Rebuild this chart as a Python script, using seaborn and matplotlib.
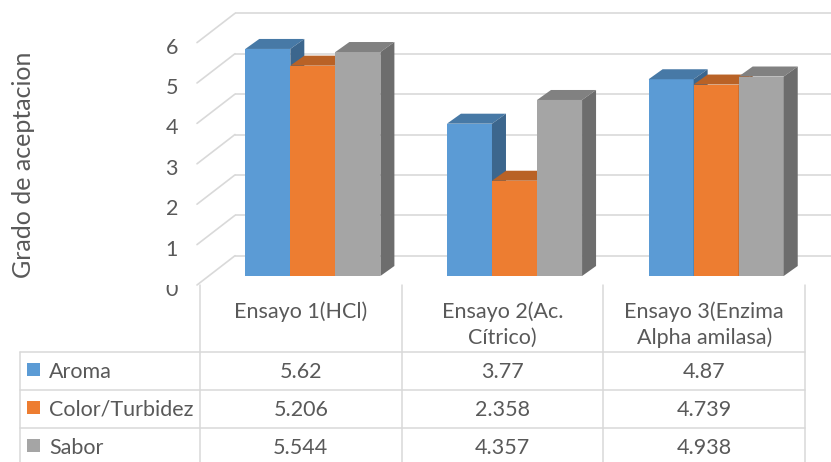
import numpy as np
import pandas as pd
import matplotlib
matplotlib.use("Agg")
import matplotlib.pyplot as plt
import seaborn as sns
from matplotlib.patches import Polygon, Rectangle
from matplotlib.transforms import offset_copy, Bbox
from matplotlib.colors import to_rgb

# ---------------- data ----------------
ensayos = ["Ensayo 1(HCl)", "Ensayo 2(Ac.\nCítrico)", "Ensayo 3(Enzima\nAlpha amilasa)"]
series = ["Aroma", "Color/Turbidez", "Sabor"]
aroma = [5.62, 3.77, 4.87]
color_turbidez = [5.206, 2.358, 4.739]
sabor = [5.544, 4.357, 4.938]
y_ticks = [0, 1, 2, 3, 4, 5, 6]
y_label = "Grado de aceptacion"
palette = ["#5B9BD5", "#ED7D31", "#A5A5A5"]

values = {"Aroma": aroma, "Color/Turbidez": color_turbidez, "Sabor": sabor}
df = pd.DataFrame([
    {"ensayo": e, "serie": s, "valor": values[s][i]}
    for s in series for i, e in enumerate(ensayos)
])

# ---------------- style ----------------
sns.set_style("white")
plt.rcParams["font.family"] = ["Lato", "DejaVu Sans"]
FS = 15.5
TXT = "#595959"
GRID = "#D9D9D9"

W, H = 831, 462
fig = plt.figure(figsize=(W / 100, H / 100), dpi=100)


def px_rect(x0, y0, x1, y1):
    return [x0 / W, 1 - y1 / H, (x1 - x0) / W, (y1 - y0) / H]


# pixel overlay for the data table
oax = fig.add_axes([0, 0, 1, 1], zorder=0)
oax.set_xlim(0, W)
oax.set_ylim(H, 0)
oax.axis("off")

# main (bar plane) axes
ax = fig.add_axes(px_rect(212, 33.6, 817, 276), zorder=1)
sns.barplot(data=df, x="ensayo", y="valor", hue="serie", order=ensayos,
            hue_order=series, palette=palette, saturation=1, width=0.67,
            legend=False, ax=ax)
ax.set_xlim(-0.5, 2.5)
ax.set_ylim(0, 6)
ax.axis("off")

# pixel/data conversion factors
p00 = ax.transData.transform((0, 0))
ux = ax.transData.transform((1, 0))[0] - p00[0]
uy = ax.transData.transform((0, 1))[1] - p00[1]

# depth geometry (pixels)
BACK = (23, 20.3)
FRONT = (-15, -9)
DEPTH = (14, 10)

# back wall gridlines and left floor/wall diagonals
for v in y_ticks:
    ax.plot([-0.5 + BACK[0] / ux, 3.2], [v + BACK[1] / uy] * 2, color=GRID,
            lw=1.2, clip_on=False, zorder=0.5, solid_capstyle="butt")
    ax.plot([-0.5 + FRONT[0] / ux, -0.5 + BACK[0] / ux],
            [v + FRONT[1] / uy, v + BACK[1] / uy], color=GRID, lw=1.2,
            clip_on=False, zorder=0.5)


def shade(c, f):
    r, g, b = to_rgb(c)
    return (r * f, g * f, b * f)


# 3D bars
ddx, ddy = DEPTH[0] / ux, DEPTH[1] / uy
bars = sorted([p for p in ax.patches if p.get_height() > 0], key=lambda p: p.get_x())
for i, p in enumerate(bars):
    x0, w, h = p.get_x(), p.get_width(), p.get_height()
    c = p.get_facecolor()
    z = 3 + i * 0.1
    p.set_zorder(z)
    p.set_edgecolor("none")
    top = Polygon([(x0, h), (x0 + w, h), (x0 + w + ddx, h + ddy), (x0 + ddx, h + ddy)],
                  closed=True, facecolor=shade(c, 0.78), edgecolor="none", zorder=z + 0.01)
    side = Polygon([(x0 + w, 0), (x0 + w + ddx, ddy), (x0 + w + ddx, h + ddy), (x0 + w, h)],
                   closed=True, facecolor=shade(c, 0.66), edgecolor="none", zorder=z + 0.02)
    ax.add_patch(top)
    ax.add_patch(side)

# y tick labels (front plane)
tick_tr = offset_copy(ax.transData, fig=fig, x=-34, y=-20, units="dots")
for v in y_ticks:
    t = ax.text(-0.5, v, str(v), transform=tick_tr, ha="right", va="baseline",
                fontsize=FS, color=TXT, clip_on=False)
    if v == 0:
        t.set_clip_box(Bbox([[0, 0], [W, H - 285]]))
        t.set_clip_on(True)

# y axis title
fig.text(24 / W, 1 - 165 / H, y_label, rotation=90, ha="center", va="center",
         fontsize=18, color=TXT)

# ---------------- data table ----------------
col_b = [ax.transData.transform((k - 0.5, 0))[0] - 12 for k in range(len(ensayos) + 1)]
row_lines = [352, 390, 428]
TOP, LEFT = 285, 20

for xb in col_b:
    oax.plot([xb, xb], [TOP, H + 2], color=GRID, lw=1.1, clip_on=False)
oax.plot([LEFT, LEFT], [row_lines[0], H + 2], color=GRID, lw=1.1, clip_on=False)
for yl in row_lines:
    oax.plot([LEFT, col_b[-1]], [yl, yl], color=GRID, lw=1.1)

for k, e in enumerate(ensayos):
    cx = (col_b[k] + col_b[k + 1]) / 2
    for j, line in enumerate(e.split("\n")):
        oax.text(cx, 317.5 + 26 * j, line, ha="center", va="baseline",
                 fontsize=FS, color=TXT)

for r, s in enumerate(series):
    ytop = row_lines[r]
    oax.add_patch(Rectangle((27, ytop + 11), 13, 13, facecolor=palette[r], edgecolor="none"))
    oax.text(49, ytop + 26, s, ha="left", va="baseline", fontsize=FS, color=TXT)
    for k in range(len(ensayos)):
        cx = (col_b[k] + col_b[k + 1]) / 2
        oax.text(cx, ytop + 26, f"{values[s][k]:g}", ha="center", va="baseline",
                 fontsize=FS, color=TXT)

fig.savefig("out.png", dpi=100)
